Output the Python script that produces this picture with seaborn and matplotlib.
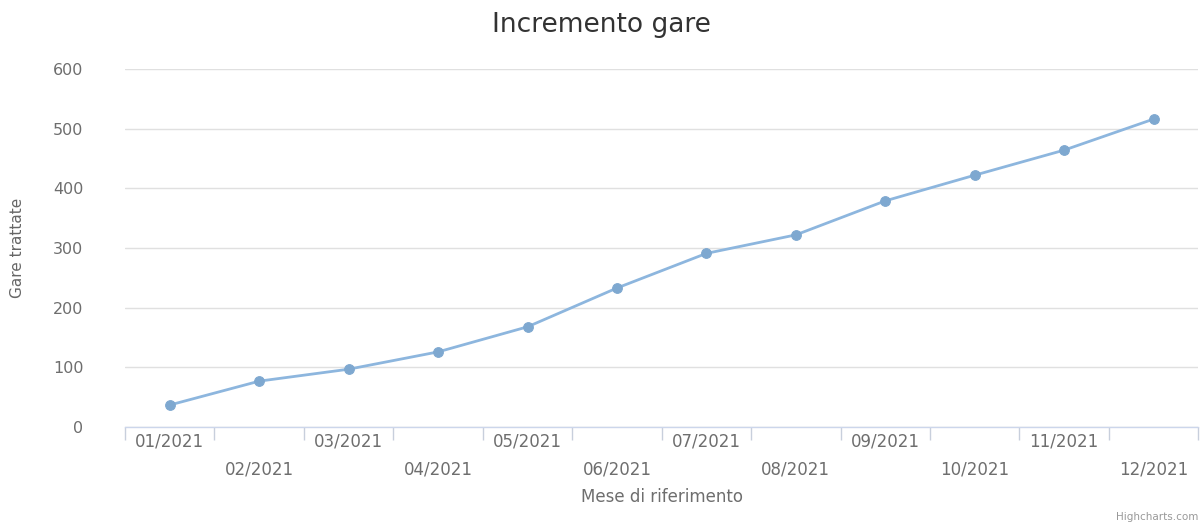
import matplotlib
matplotlib.use("Agg")
import matplotlib.pyplot as plt
import seaborn as sns
import numpy as np
import pandas as pd

months = ["01/2021", "02/2021", "03/2021", "04/2021", "05/2021", "06/2021",
          "07/2021", "08/2021", "09/2021", "10/2021", "11/2021", "12/2021"]
gare = [37, 77, 97, 126, 168, 233, 291, 322, 379, 422, 464, 516]
y_ticks = [0, 100, 200, 300, 400, 500, 600]

df = pd.DataFrame({"idx": np.arange(len(months)), "mese": months, "gare": gare})

sns.set_theme(style="white")
plt.rcParams['font.family'] = ['DejaVu Sans']

fig = plt.figure(figsize=(12.02, 5.26), dpi=100)
ax = fig.add_axes([0.104, 0.188, 0.893, 0.681])

sns.lineplot(data=df, x="idx", y="gare", ax=ax, color="#8db6de", linewidth=2,
             marker="o", markersize=7, markerfacecolor="#7ea8d0",
             markeredgecolor="#7ea8d0")

ax.set_xlim(-0.5, len(months) - 0.5)
ax.set_ylim(0, 600)
ax.set_yticks(y_ticks)
ax.set_yticklabels([str(v) for v in y_ticks], fontsize=11.5, color="#6e6e6e")
ax.yaxis.grid(True, color="#e0e0e0", linewidth=1)
ax.xaxis.grid(False)

for s in ["top", "right", "left"]:
    ax.spines[s].set_visible(False)
ax.spines["bottom"].set_color("#ccd6eb")
ax.spines["bottom"].set_linewidth(1)

ax.set_xticks(np.arange(len(months)))
ax.set_xticklabels(months, fontsize=12, color="#6e6e6e")
ax.set_xticks(np.arange(-0.5, len(months) + 0.5, 1), minor=True)
ax.tick_params(axis="x", which="major", length=0, bottom=True)
ax.tick_params(axis="x", which="minor", length=9, color="#c8cfdc", width=1,
               direction="out", bottom=True)
ax.tick_params(axis="y", length=0, pad=30)
for i, t in enumerate(ax.xaxis.get_major_ticks()):
    t.set_pad(4 if i % 2 == 0 else 24)

ax.set_xlabel("Mese di riferimento", fontsize=12, color="#6e6e6e", labelpad=7)
ax.set_ylabel("Gare trattate", fontsize=11, color="#666666", labelpad=20,
              family=["Liberation Sans Narrow", "DejaVu Sans"])

fig.text(0.5, 0.953, "Incremento gare", ha="center", va="center",
         fontsize=19, color="#333333")
fig.text(0.997, 0.008, "Highcharts.com", ha="right", va="bottom",
         fontsize=7.5, color="#999999")

fig.savefig("out.png", dpi=100, facecolor="white")
